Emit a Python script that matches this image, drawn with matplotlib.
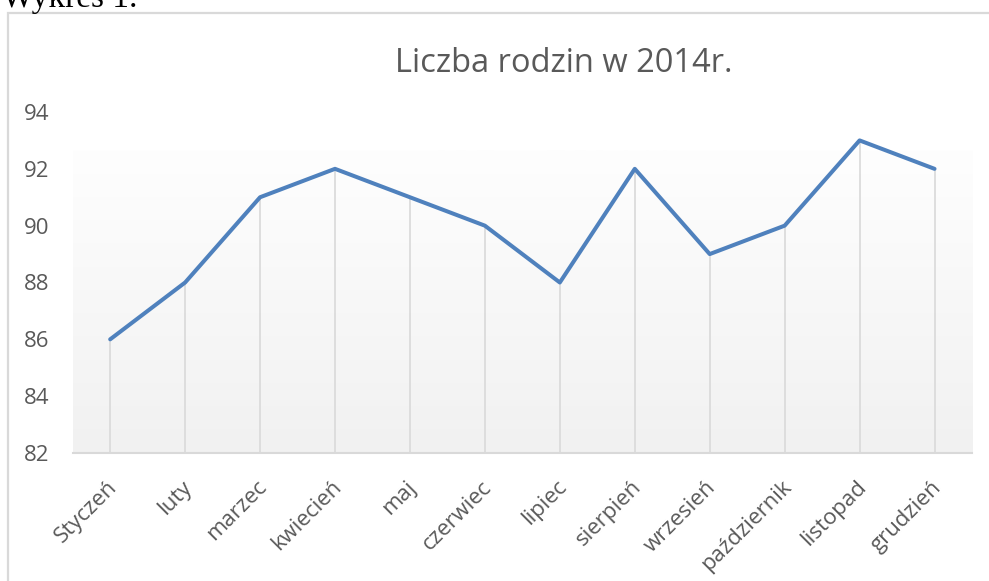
import numpy as np
import matplotlib
matplotlib.use("Agg")
import matplotlib.pyplot as plt
from matplotlib.patches import Rectangle
from matplotlib.transforms import ScaledTranslation

# data
months = ['Styczeń', 'luty', 'marzec', 'kwiecień', 'maj', 'czerwiec',
          'lipiec', 'sierpień', 'wrzesień', 'październik', 'listopad', 'grudzień']
families = [86, 88, 91, 92, 91, 90, 88, 92, 89, 90, 93, 92]
yticks = [82, 84, 86, 88, 90, 92, 94]

W, H = 989, 581
fig = plt.figure(figsize=(W / 100, H / 100), dpi=100)
fig.patch.set_facecolor('white')

gray_txt = '#595959'
line_gray = '#d9d9d9'
blue = '#4F81BD'

# chart border (Excel chart area), runs off right and bottom
fig.patches.append(Rectangle((8 / W, -0.1), 1.2, 1 - 13 / H + 0.1, transform=fig.transFigure,
                             fill=False, edgecolor=line_gray, linewidth=1.6, zorder=0))

# caption above the chart, cut by the top edge
fig.text(2 / W, 1 - 7 / H, 'Wykres 1.', family='Liberation Serif', fontsize=24,
         color='black', ha='left', va='baseline')

ax = fig.add_axes([72.7 / W, 1 - 453 / H, (972 - 72.7) / W, (453 - 112) / H])
ax.set_facecolor('white')

x = np.arange(len(months))

# plot area gradient
grad = np.linspace(0, 1, 256).reshape(-1, 1)
cmap = matplotlib.colors.LinearSegmentedColormap.from_list('g', ['#f1f1f1', '#fefefe'])
ax.imshow(grad, aspect='auto', cmap=cmap, origin='lower',
          extent=[0, 1, 0, (453 - 150) / (453 - 112)], transform=ax.transAxes, zorder=0)

# drop lines
ax.vlines(x, yticks[0], families, color=line_gray, linewidth=1.2, zorder=1)
ax.plot(x, families, color=blue, linewidth=2.9, solid_joinstyle='round',
        solid_capstyle='round', zorder=3)

ax.set_xlim(-0.5, len(months) - 0.5)
ax.set_ylim(yticks[0], yticks[-1])
ax.set_yticks(yticks)
ax.set_yticklabels([str(v) for v in yticks])
ax.set_xticks(x)
ax.set_xticklabels(months, rotation=45, ha='right', rotation_mode='anchor')

for s in ['top', 'right', 'left']:
    ax.spines[s].set_visible(False)
ax.spines['bottom'].set_color(line_gray)
ax.spines['bottom'].set_linewidth(1.5)
ax.tick_params(axis='both', length=0, colors=gray_txt, labelsize=16)
ax.tick_params(axis='y', pad=16.5)
ax.tick_params(axis='x', pad=17)
for lab in ax.get_xticklabels() + ax.get_yticklabels():
    lab.set_family('Open Sans')
shift = ScaledTranslation(-4 / 100, 0, fig.dpi_scale_trans)
for lab in ax.get_xticklabels():
    lab.set_transform(lab.get_transform() + shift)

fig.text(564 / W, 1 - 72 / H, 'Liczba rodzin w 2014r.', family='Open Sans', fontsize=23.5,
         color=gray_txt, ha='center', va='baseline')

fig.savefig('out.png', dpi=100)
